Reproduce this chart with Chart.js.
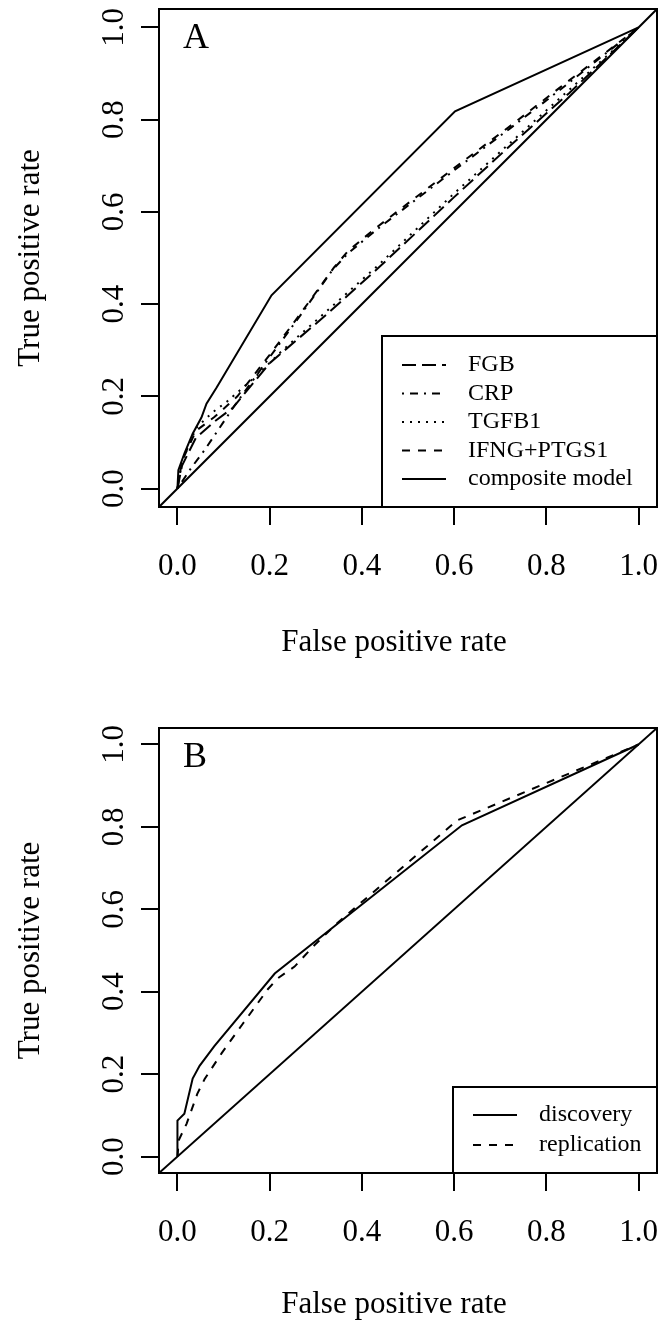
<!DOCTYPE html>
<html>
<head>
<meta charset="utf-8">
<script src="https://cdn.jsdelivr.net/npm/chart.js@4.4.1/dist/chart.umd.min.js"></script>
<style>
  body { margin: 0; background: #fff; }
  canvas { display: block; }
</style>
</head>
<body>
<canvas id="rocA" width="662" height="662"></canvas>
<canvas id="rocB" width="662" height="663"></canvas>
<script>
// axis ticks, shared by both panels
const tickValues = [0, 0.2, 0.4, 0.6, 0.8, 1.0];
const diagX = [-0.04, 1.04];
const diagY = [-0.04, 1.04];

// panel A
const fgbX = [0, 0.01, 0.04, 0.08, 0.12, 0.20, 0.324, 0.433, 0.60, 0.722, 0.85, 1];
const fgbY = [0, 0.05, 0.11, 0.145, 0.175, 0.272, 0.378, 0.476, 0.632, 0.744, 0.858, 1];
const crpX = [0, 0.03, 0.06, 0.124, 0.20, 0.259, 0.337, 0.37, 0.43, 0.60, 0.72, 0.83, 1];
const crpY = [0, 0.045, 0.085, 0.18, 0.285, 0.365, 0.475, 0.51, 0.56, 0.69, 0.78, 0.865, 1];
const tgfbX = [0, 0.01, 0.041, 0.076, 0.109, 0.172, 0.228, 0.324, 0.433, 0.60, 0.722, 0.85, 1];
const tgfbY = [0, 0.06, 0.132, 0.165, 0.19, 0.245, 0.30, 0.385, 0.482, 0.64, 0.75, 0.865, 1];
const ifngX = [0, 0.01, 0.04, 0.08, 0.13, 0.20, 0.26, 0.34, 0.37, 0.43, 0.60, 0.72, 0.83, 1];
const ifngY = [0, 0.06, 0.125, 0.155, 0.20, 0.29, 0.37, 0.48, 0.515, 0.565, 0.695, 0.785, 0.87, 1];
const compX = [0, 0.002, 0.015, 0.033, 0.052, 0.063, 0.085, 0.204, 0.602, 1];
const compY = [0, 0.04, 0.076, 0.119, 0.154, 0.184, 0.219, 0.419, 0.818, 1];

// panel B
const discX = [0, 0, 0.015, 0.033, 0.048, 0.08, 0.211, 0.617, 1];
const discY = [0, 0.087, 0.104, 0.189, 0.22, 0.268, 0.444, 0.804, 1];
const repX = [0, 0.003, 0.02, 0.043, 0.059, 0.096, 0.141, 0.196, 0.217, 0.254, 0.298, 0.35, 0.607, 1];
const repY = [0, 0.04, 0.08, 0.152, 0.188, 0.251, 0.321, 0.406, 0.432, 0.461, 0.514, 0.57, 0.816, 1];

const SERIF = 'Liberation Serif';
Chart.defaults.font.family = SERIF;
Chart.defaults.color = '#000';

function pts(xs, ys) {
    return xs.map((x, i) => ({ x: x, y: ys[i] }));
}

function curve(label, xs, ys, dash) {
    return {
        label: label,
        data: pts(xs, ys),
        borderColor: '#000',
        borderWidth: 2,
        borderDash: dash,
        pointRadius: 0,
        tension: 0,
        fill: false
    };
}

// box, rotated y labels, x title, panel letter and legend, R style
const rFrame = {
    id: 'rFrame',
    afterDraw(chart, args, o) {
        const { ctx, chartArea: a, scales } = chart;
        ctx.save();
        ctx.strokeStyle = '#000';
        ctx.fillStyle = '#000';
        ctx.lineWidth = 2;
        ctx.setLineDash([]);
        ctx.strokeRect(a.left, a.top, a.right - a.left, a.bottom - a.top);

        ctx.font = '31px "' + SERIF + '"';
        ctx.textAlign = 'center';
        ctx.textBaseline = 'alphabetic';
        tickValues.forEach(v => {
            const py = scales.y.getPixelForValue(v);
            ctx.save();
            ctx.translate(o.yLabelX, py);
            ctx.rotate(-Math.PI / 2);
            ctx.fillText(v.toFixed(1), 0, 0);
            ctx.restore();
        });

        ctx.textBaseline = 'middle';
        ctx.fillText(o.xTitle, o.xTitleX, o.xTitleY);

        ctx.font = '36px "' + SERIF + '"';
        ctx.textAlign = 'left';
        ctx.textBaseline = 'alphabetic';
        ctx.fillText(o.letter, a.left + 24, a.top + o.letterDy);

        const lx = a.right - o.legendW;
        const ly = a.bottom - o.legendH;
        ctx.strokeRect(lx, ly, o.legendW, o.legendH);
        ctx.font = '24px "' + SERIF + '"';
        ctx.textBaseline = 'middle';
        const items = chart.data.datasets.filter(d => d.label);
        items.forEach((d, i) => {
            const y = ly + o.rowTop + i * o.rowGap;
            ctx.setLineDash(d.borderDash || []);
            ctx.beginPath();
            ctx.moveTo(lx + 20, y);
            ctx.lineTo(lx + 64, y);
            ctx.stroke();
            ctx.setLineDash([]);
            ctx.fillText(d.label, lx + 86, y);
        });
        ctx.restore();
    }
};

function axis(title, size, showTicks) {
    return {
        type: 'linear',
        min: -0.04,
        max: 1.04,
        afterBuildTicks: s => { s.ticks = tickValues.map(v => ({ value: v })); },
        afterFit: s => {
            if (s.isHorizontal()) s.height = size; else s.width = size;
            s.paddingLeft = 0;
            s.paddingRight = 0;
            s.paddingTop = 0;
            s.paddingBottom = 0;
        },
        grid: {
            display: true,
            drawOnChartArea: false,
            drawTicks: true,
            tickLength: 18,
            color: '#000',
            tickColor: '#000',
            lineWidth: 2
        },
        border: { display: true, color: '#000', width: 2 },
        ticks: {
            display: showTicks,
            autoSkip: false,
            maxRotation: 0,
            padding: 23,
            color: '#000',
            font: { family: SERIF, size: 31 },
            callback: v => v.toFixed(1)
        },
        title: {
            display: title !== '',
            text: title,
            color: '#000',
            font: { family: SERIF, size: 31 },
            padding: { top: 12, bottom: 0 }
        }
    };
}

const rocA = new Chart(document.getElementById('rocA'), {
    type: 'line',
    plugins: [rFrame],
    data: {
        datasets: [
            curve('', diagX, diagY, []),
            curve('FGB', fgbX, fgbY, [14, 6]),
            curve('CRP', crpX, crpY, [2, 6, 8, 6]),
            curve('TGFB1', tgfbX, tgfbY, [2, 6]),
            curve('IFNG+PTGS1', ifngX, ifngY, [8, 8]),
            curve('composite model', compX, compY, [])
        ]
    },
    options: {
        responsive: false,
        animation: false,
        layout: { padding: { left: 0, right: 5, top: 9, bottom: 0 } },
        plugins: {
            legend: { display: false },
            tooltip: { enabled: false },
            rFrame: {
                letter: 'A', letterDy: 39, yLabelX: 123,
                xTitle: 'False positive rate', xTitleX: 394, xTitleY: 643,
                legendW: 275, legendH: 171, rowTop: 29, rowGap: 28.5
            }
        },
        scales: {
            x: axis('', 155, true),
            y: axis('True positive rate', 159, false)
        }
    }
});

const rocB = new Chart(document.getElementById('rocB'), {
    type: 'line',
    plugins: [rFrame],
    data: {
        datasets: [
            curve('', diagX, diagY, []),
            curve('discovery', discX, discY, []),
            curve('replication', repX, repY, [8, 8])
        ]
    },
    options: {
        responsive: false,
        animation: false,
        layout: { padding: { left: 0, right: 5, top: 66, bottom: 0 } },
        plugins: {
            legend: { display: false },
            tooltip: { enabled: false },
            rFrame: {
                letter: 'B', letterDy: 39, yLabelX: 123,
                xTitle: 'False positive rate', xTitleX: 394, xTitleY: 643,
                legendW: 204, legendH: 86, rowTop: 28, rowGap: 30
            }
        },
        scales: {
            x: axis('', 152, true),
            y: axis('True positive rate', 159, false)
        }
    }
});
</script>
</body>
</html>
